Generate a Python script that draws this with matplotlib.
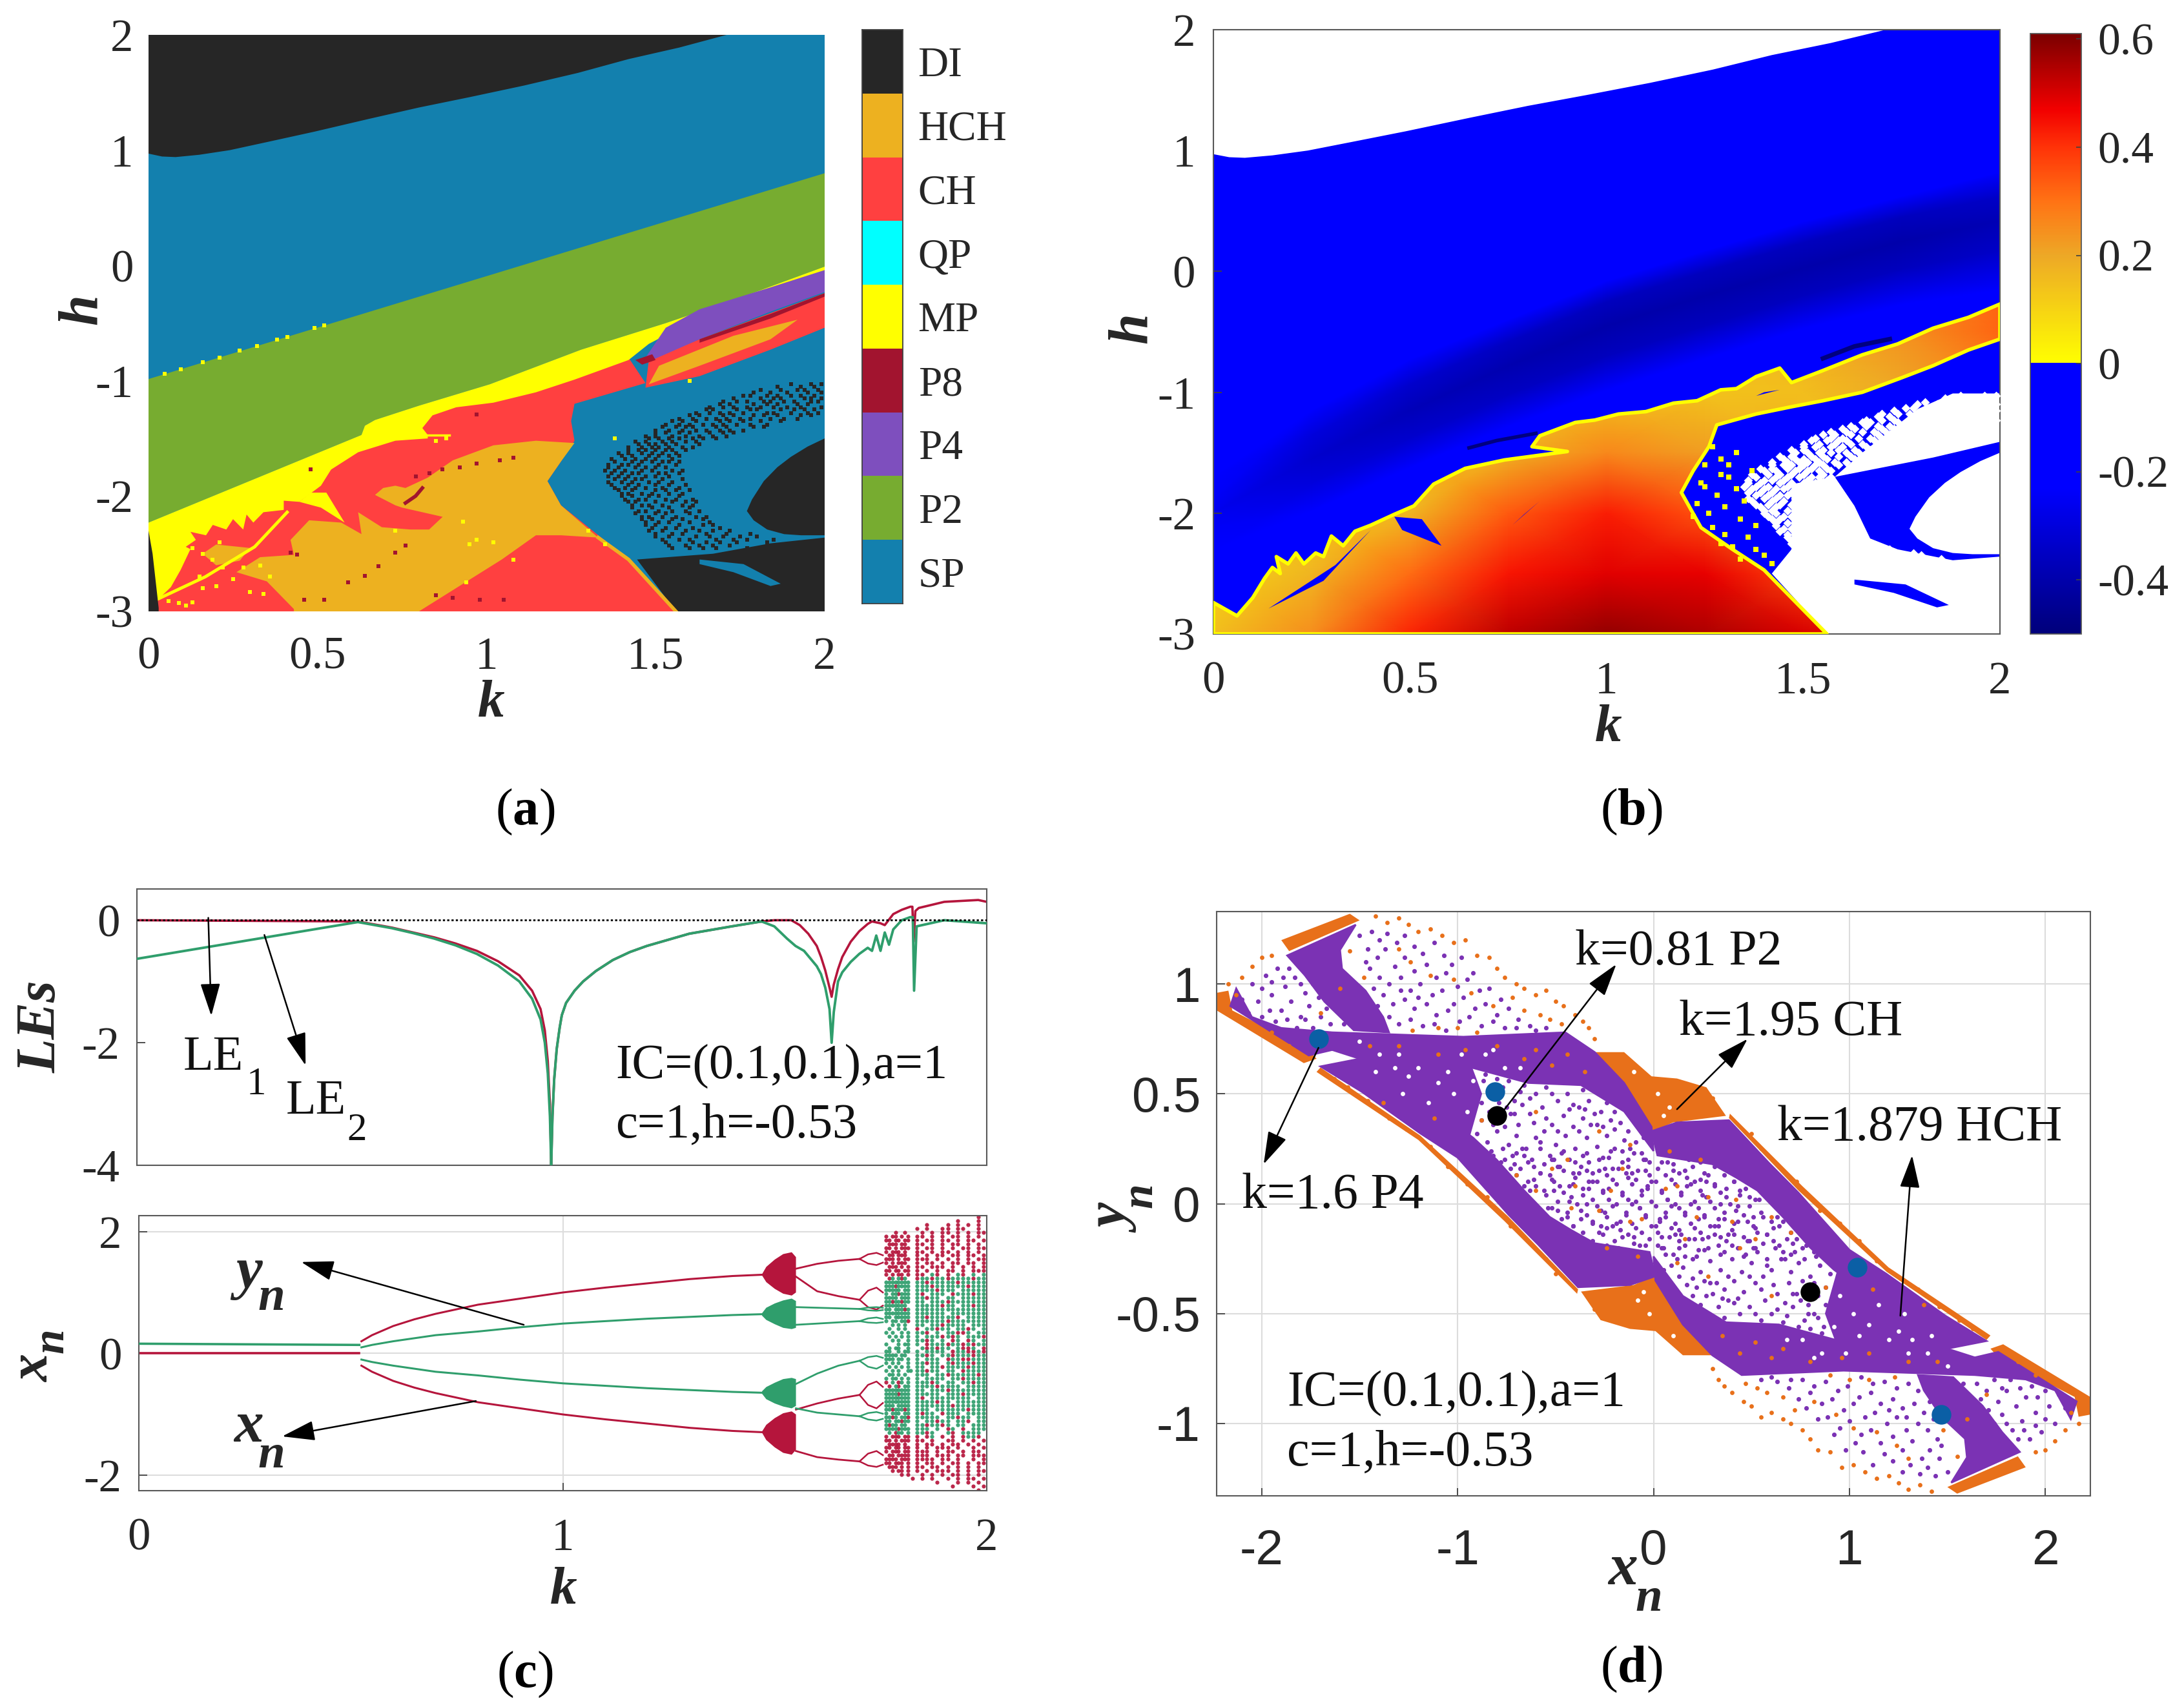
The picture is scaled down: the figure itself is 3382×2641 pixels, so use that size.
import numpy as np
import matplotlib
matplotlib.use("Agg")
import matplotlib.pyplot as plt
from matplotlib.colors import LinearSegmentedColormap, Normalize, ListedColormap
from matplotlib.cm import ScalarMappable
from matplotlib.patches import Polygon

W, H = 3382, 2641
plt.rcParams['font.family'] = ['Liberation Serif', 'DejaVu Serif']
plt.rcParams['axes.unicode_minus'] = False
plt.rcParams['mathtext.fontset'] = 'custom'
plt.rcParams['mathtext.rm'] = 'Liberation Serif'
plt.rcParams['mathtext.bf'] = 'Liberation Serif:bold'

# ---------- panel (a)/(b) regions, (k, h) ----------
state_names = ['DI', 'HCH', 'CH', 'QP', 'MP', 'P8', 'P4', 'P2', 'SP']
state_cols = ['#262626', '#EDB120', '#FF4040', '#00FFFF', '#FFFF00', '#A2142F', '#7E4FBE', '#77AC30', '#1380AE']

di_top = [(0, .97), (.04, .945), (.08, .94), (.15, .96), (.24, 1.0), (.35, 1.07), (.49, 1.16), (.65, 1.27), (.80, 1.37), (.95, 1.46), (1.11, 1.56), (1.27, 1.67), (1.42, 1.79), (1.57, 1.89), (1.71, 2.0), (0, 2)]
p2_upper = [(0, -.985), (2, .80)]
p2_lower = [(0, -2.23), (.63, -1.47), (.64, -1.39), (.67, -1.34), (.80, -1.216), (1.01, -1.03), (1.28, -.73), (1.53, -.50), (1.74, -.29), (2, -.01)]
mp_lower = [(2, -.05), (1.84, -.26), (1.63, -.45), (1.48, -.68), (1.42, -.82), (1.26, -.99), (1.146, -1.10), (1.02, -1.19), (.91, -1.23), (.84, -1.30), (.81, -1.41), (.826, -1.47),
            (.826, -1.50), (.73, -1.52), (.62, -1.62), (.54, -1.77), (.51, -1.91), (.446, -2.05), (.40, -2.04), (.40, -2.12), (.34, -2.14), (.31, -2.23), (.29, -2.16), (.28, -2.29),
            (.25, -2.20), (.23, -2.29), (.19, -2.25), (.17, -2.34), (.124, -2.31), (.14, -2.38), (.11, -2.44), (.124, -2.46), (.095, -2.64), (.066, -2.79), (.02, -2.92), (0, -3)]
p4_poly = [(1.47, -.80), (1.53, -.54), (1.63, -.38), (1.84, -.19), (2, -.04), (2, -.23), (1.84, -.40), (1.63, -.64), (1.49, -.82)]
p8_blob = [(1.44, -.82), (1.49, -.77), (1.50, -.82), (1.46, -.86)]
p8_streak = [(1.63, -.64), (1.84, -.42), (2, -.24), (2, -.27), (1.84, -.46), (1.63, -.67)]
ch_wedge = [(1.47, -1.06), (1.48, -.82), (1.63, -.64), (2, -.24), (2, -.54), (1.84, -.73), (1.63, -.96)]
hch_wedge = [(1.48, -1.03), (1.51, -.87), (1.73, -.61), (1.92, -.47), (1.84, -.64), (1.63, -.87)]
ch_main = [(0, -3), (0, -2.4), (.3, -1.92), (.63, -1.52), (.84, -1.25), (1.01, -1.1), (1.26, -.9), (1.42, -.80), (1.47, -1.02), (1.26, -1.20), (1.25, -1.35), (1.26, -1.52), (1.22, -1.70), (1.18, -1.87), (1.22, -2.08), (1.42, -2.55), (1.56, -3)]
hch_main = [(1.26, -1.54), (1.146, -1.52), (1.02, -1.56), (.90, -1.69), (.826, -1.84), (.76, -1.93), (.73, -1.91), (.694, -1.93), (.67, -1.99), (.73, -2.08), (.75, -2.10), (.87, -2.18), (.83, -2.29),
            (.775, -2.29), (.69, -2.27), (.62, -2.14), (.63, -2.33), (.57, -2.23), (.475, -2.21), (.42, -2.38), (.43, -2.51), (.33, -2.53), (.26, -2.66), (.35, -2.74), (.43, -2.98), (.43, -3), (.80, -3),
            (1.045, -2.55), (1.146, -2.34), (1.22, -2.34), (1.33, -2.36), (1.22, -2.08), (1.18, -1.87), (1.22, -1.70)]
hch_patch = [(.2, -2.42), (.3, -2.45), (.27, -2.56), (.2, -2.6), (.16, -2.5)]
mp_wedge = [(.48, -1.97), (.526, -1.97), (.58, -2.23), (.51, -2.10), (.446, -2.05)]
mp_spike_k, mp_spike_h = [.015, .168, .314, .41], [-2.91, -2.70, -2.44, -2.14]
mp_slit_k, mp_slit_h = [.81, .89], [-1.47, -1.47]
hch_edge_k, hch_edge_h = [1.33, 1.42, 1.56], [-2.36, -2.55, -3]
di_strip = [(0, -2.3), (.012, -2.5), (.03, -2.97), (.03, -3), (0, -3)]
di_low = [(1.445, -2.55), (1.56, -3), (2, -3), (2, -2.36), (1.84, -2.41), (1.67, -2.50)]
sp_tongue = [(1.63, -2.55), (1.76, -2.59), (1.87, -2.76), (1.84, -2.78), (1.73, -2.66), (1.63, -2.59)]
di_inner = [(1.77, -2.13), (1.785, -2.03), (1.82, -1.87), (1.86, -1.75), (1.90, -1.66), (1.95, -1.57), (2, -1.50), (2, -2.34), (1.93, -2.34), (1.88, -2.33), (1.83, -2.29), (1.79, -2.21)]
p8_mark_k, p8_mark_h = [.76, .79, .81], [-2.06, -2.0, -1.93]
dot_k = [.46, .52, .59, .64, .68, .73, .76, .85, .90, .98, 1.05, .42, .44, .79, .83, .87, .92, .97, 1.04, 1.08, .97, .48]
dot_h = [-2.9, -2.9, -2.75, -2.69, -2.61, -2.49, -2.43, -2.86, -2.88, -2.9, -2.9, -2.49, -2.51, -1.83, -1.80, -1.77, -1.75, -1.72, -1.69, -1.67, -1.29, -1.77]
yel_k = [.048, .095, .16, .21, .27, .32, .38, .41, .49, .52, .06, .09, .13, .16, .2, .25, .3, .05, .11, .15, .19, .22, .28, .34, .13, .16, .21, 1.02, .95, .97, 1.08, 1.3, 1.35, 1.38, 1.6, .33, .36, .94, .73, .85, .88, .93]
yel_h = [-.94, -.90, -.84, -.80, -.74, -.70, -.64, -.62, -.54, -.52, -2.91, -2.93, -2.92, -2.8, -2.78, -2.72, -2.83, -2.75, -2.95, -2.7, -2.55, -2.62, -2.62, -2.85, -2.45, -2.5, -2.4, -2.4, -2.42, -2.38, -2.55, -2.3, -2.42, -1.5, -1.0, -2.6, -2.7, -2.75, -2.3, -1.52, -1.5, -2.22]

speck_rows = [
    (-1.03, [1.90, 1.96, 1.99]),
    (-1.05, [1.86, 1.93, 1.97]),
    (-1.08, [1.81, 1.87, 1.92, 1.94, 1.98]),
    (-1.10, [1.79, 1.84, 1.89, 1.95, 1.99]),
    (-1.13, [1.76, 1.78, 1.83, 1.86, 1.90, 1.93, 1.97]),
    (-1.15, [1.73, 1.81, 1.85, 1.87, 1.94, 1.96, 1.99]),
    (-1.18, [1.70, 1.74, 1.77, 1.82, 1.84, 1.88, 1.91, 1.96, 1.98]),
    (-1.20, [1.69, 1.72, 1.79, 1.83, 1.86, 1.92, 1.95]),
    (-1.23, [1.66, 1.70, 1.73, 1.77, 1.81, 1.85, 1.89, 1.93, 1.99]),
    (-1.25, [1.65, 1.67, 1.74, 1.78, 1.80, 1.87, 1.91, 1.94, 1.97]),
    (-1.28, [1.62, 1.66, 1.69, 1.72, 1.76, 1.83, 1.85, 1.90, 1.95, 1.98]),
    (-1.30, [1.60, 1.63, 1.70, 1.73, 1.79, 1.82, 1.86, 1.93, 1.96]),
    (-1.33, [1.57, 1.61, 1.65, 1.68, 1.71, 1.75, 1.78, 1.84, 1.88, 1.92]),
    (-1.35, [1.55, 1.58, 1.62, 1.69, 1.72, 1.76, 1.81, 1.87]),
    (-1.38, [1.53, 1.57, 1.60, 1.64, 1.67, 1.70, 1.74, 1.78, 1.83]),
    (-1.40, [1.52, 1.56, 1.59, 1.61, 1.68, 1.71, 1.79, 1.82]),
    (-1.43, [1.50, 1.54, 1.58, 1.62, 1.65, 1.69, 1.72, 1.76]),
    (-1.45, [1.50, 1.53, 1.57, 1.60, 1.66, 1.70, 1.73]),
    (-1.48, [1.47, 1.50, 1.55, 1.59, 1.63, 1.67, 1.71]),
    (-1.50, [1.48, 1.51, 1.54, 1.57, 1.61, 1.64, 1.68]),
    (-1.53, [1.44, 1.47, 1.52, 1.55, 1.59, 1.62]),
    (-1.55, [1.45, 1.48, 1.50, 1.53, 1.56, 1.63]),
    (-1.58, [1.42, 1.46, 1.49, 1.51, 1.54, 1.58, 1.61]),
    (-1.60, [1.42, 1.45, 1.47, 1.50, 1.53, 1.55, 1.59]),
    (-1.63, [1.39, 1.42, 1.46, 1.49, 1.52, 1.56]),
    (-1.65, [1.40, 1.43, 1.48, 1.51, 1.54, 1.57]),
    (-1.68, [1.37, 1.41, 1.44, 1.47, 1.50, 1.55]),
    (-1.70, [1.38, 1.43, 1.46, 1.49, 1.52, 1.54, 1.57]),
    (-1.73, [1.36, 1.40, 1.42, 1.45, 1.51, 1.56]),
    (-1.75, [1.36, 1.39, 1.44, 1.47, 1.50, 1.53]),
    (-1.78, [1.35, 1.38, 1.41, 1.46, 1.49, 1.55, 1.58]),
    (-1.80, [1.37, 1.40, 1.43, 1.45, 1.51, 1.53, 1.57]),
    (-1.83, [1.36, 1.39, 1.42, 1.47, 1.50, 1.54]),
    (-1.85, [1.38, 1.41, 1.44, 1.46, 1.52, 1.58]),
    (-1.88, [1.36, 1.40, 1.43, 1.48, 1.51, 1.55]),
    (-1.90, [1.37, 1.42, 1.45, 1.50, 1.54, 1.59]),
    (-1.93, [1.38, 1.41, 1.44, 1.47, 1.52, 1.57]),
    (-1.95, [1.39, 1.43, 1.50, 1.53, 1.56, 1.60]),
    (-1.98, [1.40, 1.42, 1.46, 1.49, 1.54, 1.58]),
    (-2.00, [1.40, 1.43, 1.48, 1.51, 1.57]),
    (-2.03, [1.41, 1.45, 1.47, 1.53, 1.56, 1.61]),
    (-2.05, [1.42, 1.44, 1.50, 1.55, 1.59, 1.62]),
    (-2.08, [1.43, 1.46, 1.48, 1.52, 1.58, 1.61]),
    (-2.10, [1.43, 1.49, 1.54, 1.60]),
    (-2.13, [1.45, 1.47, 1.51, 1.55, 1.59, 1.63]),
    (-2.15, [1.44, 1.50, 1.53, 1.60]),
    (-2.18, [1.46, 1.48, 1.52, 1.56, 1.62, 1.65]),
    (-2.20, [1.46, 1.49, 1.55, 1.58, 1.64]),
    (-2.23, [1.47, 1.51, 1.54, 1.60, 1.66]),
    (-2.25, [1.47, 1.50, 1.57, 1.64, 1.67]),
    (-2.28, [1.49, 1.53, 1.56, 1.61, 1.69]),
    (-2.30, [1.48, 1.52, 1.59, 1.63, 1.67, 1.72]),
    (-2.33, [1.50, 1.55, 1.58, 1.65, 1.71, 1.78]),
    (-2.35, [1.50, 1.54, 1.62, 1.66, 1.70, 1.75, 1.80]),
    (-2.38, [1.52, 1.57, 1.60, 1.68, 1.73, 1.77, 1.85]),
    (-2.40, [1.53, 1.61, 1.65, 1.69, 1.74, 1.83]),
    (-2.43, [1.54, 1.59, 1.63, 1.67, 1.72]),
    (-2.45, [1.55, 1.60, 1.64, 1.68, 1.77]),
]

# ---------- panel (b) ----------
band_k = [0, .25, .5, .75, 1, 1.25, 1.5, 1.75, 2]
band_low = [-2.3, -1.98, -1.62, -1.28, -.98, -.72, -.47, -.27, -.15]
band_low2 = [-2.12, -1.75, -1.38, -1.02, -.70, -.45, -.20, .02, .17]
band_mid = [-2.0, -1.55, -1.15, -.78, -.45, -.2, .03, .25, .42]
band_up2 = [-1.88, -1.35, -.93, -.58, -.25, 0, .24, .45, .62]
band_up = [-1.7, -1.15, -.73, -.40, -.08, .17, .41, .62, .82]
band_val = [-.26, -.33, -.37, -.39, -.40, -.40, -.40, -.40, -.38]
band_val2 = [-.24, -.30, -.33, -.35, -.36, -.36, -.36, -.36, -.34]
bg_val = -.18
edge_val = -.22

chaos_k = [0, .25, .5, .75, 1, 1.25, 1.5, 1.75, 2]
chaos_h = [-3, -2.5, -2, -1.5, -1, -.5, 0]
chaos_v = [[.15, .25, .42, .53, .58, .55, .50, .45, .45],
           [.10, .17, .31, .44, .49, .48, .37, .30, .30],
           [.08, .11, .17, .34, .43, .35, .20, .20, .20],
           [.05, .08, .12, .18, .26, .22, .15, .15, .15],
           [.05, .08, .10, .12, .14, .14, .15, .20, .25],
           [.05, .08, .10, .12, .14, .15, .18, .24, .32],
           [.05, .08, .10, .12, .14, .15, .18, .24, .32]]
chaos_poly = [(0, -3), (0, -2.74), (.06, -2.85), (.10, -2.70), (.13, -2.54), (.15, -2.45), (.17, -2.50), (.16, -2.36), (.19, -2.42), (.21, -2.33), (.23, -2.42), (.26, -2.33), (.28, -2.36), (.30, -2.19), (.33, -2.27), (.36, -2.15), (.40, -2.10),
              (.46, -2.01), (.51, -1.94), (.56, -1.76), (.64, -1.63), (.74, -1.56), (.90, -1.49), (.81, -1.45), (.83, -1.36), (.92, -1.25), (.97, -1.23), (1.03, -1.18), (1.10, -1.16), (1.17, -1.09), (1.23, -1.07), (1.29, -.98), (1.33, -.97), (1.38, -.87), (1.44, -.80),
              (1.47, -.92), (1.55, -.82), (1.65, -.69), (1.74, -.60), (1.83, -.47), (1.92, -.38), (2, -.27), (2, -.56), (1.92, -.65), (1.83, -.78), (1.75, -.88), (1.65, -1.0), (1.55, -1.07), (1.47, -1.12), (1.38, -1.18), (1.28, -1.27), (1.26, -1.45), (1.22, -1.65), (1.19, -1.83),
              (1.24, -2.12), (1.32, -2.30), (1.40, -2.47), (1.56, -3)]
holes = [[(.40, -2.14), (.31, -2.43), (.14, -2.79), (.28, -2.56)],
         [(.46, -2.03), (.53, -2.05), (.58, -2.27), (.48, -2.14)],
         [(.76, -2.10), (.83, -1.90), (.79, -2.01)],
         [(1.38, -1.03), (1.44, -.98), (1.40, -1.0)]]
white_low = [(1.47, -1.76), (1.58, -1.70), (1.63, -1.94), (1.67, -2.21), (1.74, -2.30), (1.88, -2.39), (2, -2.36), (2, -3), (1.56, -3), (1.42, -2.50), (1.47, -2.30)]
white_up = [(1.58, -1.70), (1.83, -1.54), (2, -1.41), (2, -1.01), (1.88, -1.01), (1.79, -1.14), (1.65, -1.50)]
cb_ticks = [.6, .4, .2, 0, -.2, -.4]
dark_k, dark_h = [.65, .72, .82], [-1.46, -1.40, -1.34]
dark2_k, dark2_h = [1.55, 1.63, 1.72], [-.72, -.62, -.56]
byel_k = [1.27, 1.25, 1.29, 1.24, 1.28, 1.31, 1.23, 1.26, 1.30, 1.33, 1.27, 1.30, 1.34, 1.36, 1.31, 1.35, 1.38, 1.40, 1.22, 1.25, 1.29, 1.33, 1.37, 1.32, 1.38, 1.42, 1.29, 1.34]
byel_h = [-1.45, -1.6, -1.55, -1.75, -1.85, -1.7, -1.92, -2.0, -1.95, -1.8, -2.12, -2.18, -2.05, -2.2, -1.6, -1.9, -2.1, -2.35, -2.03, -1.78, -1.68, -1.5, -1.65, -2.28, -2.3, -2.42, -2.25, -2.38]

# ---------- panel (c) ----------
le_k1 = [0, .52, .56, .6, .65, .7, .75, .8, .85, .9, .93, .95, .96, .967, .972, .975]
le1_a = [0, -.02, -.07, -.12, -.2, -.28, -.38, -.5, -.67, -.9, -1.15, -1.45, -1.8, -2.3, -3, -4]
le2_a = [-.63, -.03, -.08, -.13, -.21, -.3, -.41, -.55, -.74, -1.0, -1.28, -1.62, -2.0, -2.5, -3.2, -4]
le_k0 = [.975, .978, .982, .988, .995, 1.0, 1.01, 1.03, 1.05, 1.08, 1.12, 1.16, 1.2, 1.3, 1.4, 1.47]
le_shared = [-4, -3.2, -2.6, -2.1, -1.75, -1.55, -1.35, -1.15, -1.0, -.83, -.65, -.52, -.42, -.22, -.1, -.02]
le_k2 = [1.47, 1.5, 1.54, 1.56, 1.58, 1.6, 1.61, 1.62, 1.63, 1.635, 1.64, 1.65, 1.66, 1.68, 1.7, 1.72, 1.73, 1.75, 1.76, 1.78, 1.8, 1.82, 1.825, 1.828, 1.832, 1.84, 1.9, 1.98, 2]
le1_b = [-.02, 0, 0, -.08, -.22, -.42, -.6, -.82, -1.1, -1.25, -1.05, -.8, -.6, -.35, -.18, -.06, -.02, -.05, -.08, .1, .17, .22, .22, -.35, .15, .2, .3, .33, .3]
le_k3 = [1.47, 1.5, 1.53, 1.55, 1.57, 1.6, 1.61, 1.62, 1.63, 1.635, 1.64, 1.65, 1.66, 1.68, 1.7, 1.72, 1.73, 1.74, 1.75, 1.76, 1.77, 1.78, 1.8, 1.82, 1.826, 1.829, 1.835, 1.9, 2]
le2_b = [-.02, -.1, -.3, -.42, -.5, -.75, -.88, -1.1, -1.45, -2, -1.5, -1.0, -.85, -.68, -.55, -.45, -.5, -.25, -.5, -.2, -.4, -.15, 0, .05, .05, -1.15, -.1, 0, -.05]

k_flat, x_flat, y_flat = [0, .52], [0, 0], [.16, .14]
k_b1 = [.525, .55, .6, .65, .7, .8, .9, 1, 1.1, 1.2, 1.3, 1.4, 1.5]
x_b1 = [.2, .3, .45, .56, .65, .8, .9, 1, 1.08, 1.15, 1.22, 1.27, 1.3]
y_b1 = [.1, .14, .2, .25, .3, .36, .43, .49, .53, .57, .6, .63, .65]
blob_k = [1.47, 1.48, 1.50, 1.52, 1.54, 1.55, 1.55, 1.54, 1.52, 1.50, 1.48, 1.47]
blob_x = [1.3, 1.42, 1.54, 1.63, 1.66, 1.58, 1.0, .95, .98, 1.06, 1.17, 1.28]
blob_y = [.66, .75, .82, .87, .9, .86, .42, .4, .42, .48, .55, .62]
k_b2 = [1.55, 1.6, 1.65, 1.70]
red_branches = [[1.39, 1.47, 1.52, 1.55], [1.26, 1.02, .94, .88], [-.92, -.82, -.74, -.68], [-1.6, -1.70, -1.74, -1.77]]
green_branches = [[.76, .75, .74, .73], [.47, .49, .51, .53], [-.5, -.33, -.2, -.12], [-.9, -.97, -1.0, -1.03]]
red_fork_up, red_fork_dn = [.10, .2, .22, .17], [.1, .16, .22, .09]
green_fork_up, green_fork_dn = [.03, .06, .08, .07], [.03, .03, .13, .07]
fork_k = [1.70, 1.72, 1.74, 1.755]
fork_w = [0, .75, 1, .6]
cloud_rows = [
"......................r.",
"..................r...r.",
"............r...r.r.r.r.",
"..........r.r..rr.rr..r.",
"...r..r....r.r.rr.r.r.rr",
"r.rr.r.r..rr.r.r.rr.r.r.",
"rr.rr.rr..r.rr.rr.r.rr.r",
".rrr.rr...rr.r.r.rr.r.r.",
"rr.r.rrr..r.rr.r.r.rr.rr",
"r.rrr.r...rr.r.rr.r.r.r.",
".rr.rrr...r.r.rr.rr.rr.r",
"rrr.r.rr..rrr.r.r.r.r.rr",
"r.r.rrr...r.rr.r.rr.rr.r",
".rrr.r.r..rr.rrr.r.r.r.r",
"rr.rr.rr..r.r.r.rr.r.rrr",
"r.r.rr.r..rr.gr.r.gr.g.g",
".rg.grg...rggrggrggggrgg",
"gggggggg..ggrgggggrggggg",
"gggrgggg..gggrggggggrggg",
"ggggg.gg..ggggrggg.ggggg",
"g.ggrggg..gr.ggg.rgggrgg",
"gggg.ggg..ggrgg.gg.ggggg",
"ggrggrgg..gg.gggrggggggg",
"ggggggg...gggggrgg.ggrgg",
"gg.gggrg..gggggggggggggg",
"gggggggg..gggggg.ggggggg",
"gg.ggggg..ggrgggggr.gggg",
"g.gg.ggr..ggggggrggggggg",
"..g.g.g...gg.ggrgggg.ggg",
".g..g.g...r.ggrgg.ggrg.g",
"g.g..g.g..ggr.g.ggrrg.gg",
".g.g.g.g..g.gggrgrg.gggr",
"..g.g..g..ggrg.g.rg.rg.g",
"g...g.gg..g.rgggrggrgrgg",
".g.gg..g...grgrgg.grrg.r",
"gg..g.gg..g.gggg.rggrrgr",
"gggg.gg...ggrg.ggrgggrgg",
"ggg.gg.g..g.ggg.rggrrggg",
"g.g.g..g..ggrgg.grgggrgg",
".g.g.g.g..gg.ggrggggrggg",
"g.g.g..gg.ggrgg.gg.rgggg",
".gg.g.g...ggg.ggrgggggrg",
"g.gg.g.g..g.gggg.ggrgggg",
"r.g.rg.g..gggrg.gg.ggrgg",
".r.gr.gg..ggggrgggg.gggg",
"gggggggg..gg.gggrggggggg",
"ggggrggg..ggggg.gggrgggg",
"gggggggg..gr.gggggggg.gg",
"gggggggg..ggggrgg.gggggg",
"ggg.gggg..gggggggrgggggg",
"ggrgggrg..ggg.ggggggrggg",
"g.ggg.gg..grgg.rggg.gggg",
"ggrg.ggr..ggggg.ggrgg.gg",
"gg.ggrgg..g.ggrgg.ggr.gg",
"grgg.gg...ggrggrg.gg.ggg",
"ggggrggg..ggg.g.rg.r.ggg",
".g.rgg.g..ggrg..gr.gggg.",
"r.rrr.rr..r.rg.r.r.rggr.",
"rr.r.rrr..rr.r..rr.r.r.r",
".rrrr.r...r.rr.r.rr.r.r.",
"rr.rr.rr..r.r.rrr.r..r.r",
"r.rrr.rr..rrr.r.rr.r.rr.",
".rr.rrrr..rrr.rrr.rr.rrr",
"rrrr.rrr..rrrr.rr.r..r.r",
"rr.rrr.r..r.rr.r.rr.r.rr",
".rrr.r.r..rr.rr.r.r.r.r.",
"..r.rr.r..r.r.rrr.r.r.rr",
".....r.r...r.r.r.rr.r.r.",
".........r.r.r..r.r.rr.r",
"..............r...r.r.r.",
".................r...r.r",
"......................r.",
]
cloud_col_k = [1.763, 1.77, 1.777, 1.785, 1.792, 1.799, 1.806, 1.814, 1.82, 1.825, 1.835, 1.847, 1.859, 1.871, 1.883, 1.895, 1.908, 1.92, 1.932, 1.944, 1.956, 1.968, 1.98, 1.992]

# ---------- panel (d): half of the point-symmetric attractor ----------
purple_bands = [
    [(-2.16, .90), (-2.13, .98), (-2.05, .85), (-1.9, .8), (-1.64, .78), (-.97, .76), (-.45, .78), (-.30, .69), (-.15, .55), (-.01, .35), (0, .24), (-.15, .42), (-.37, .54), (-.64, .55), (-.93, .62), (-1.19, .675), (-1.64, .70), (-1.76, .675)],
    [(-1.87, 1.13), (-1.52, 1.27), (-1.60, 1.155), (-1.59, 1.07), (-1.47, .97), (-1.38, .85), (-1.35, .78), (-1.53, .79), (-1.68, .92), (-1.78, 1.04), (-1.84, 1.10)],
    [(-1.70, .625), (-1.49, .51), (-1.19, .32), (-1.0, .21), (-.74, -.05), (-.59, -.185), (-.385, -.38), (-.12, -.37), (.01, -.33), (-.02, -.22), (-.30, -.18), (-.42, -.12), (-.53, -.06), (-.66, .06), (-.80, .2), (-.92, .3), (-1.1, .42), (-1.3, .56), (-1.5, .66)],
    [(-1.64, .70), (-1.19, .675), (-.93, .62), (-.88, .5), (-.95, .28), (-1.1, .42), (-1.3, .56), (-1.5, .66)],
]
orange_bands = [
    [(-.30, .69), (-.15, .69), (-.01, .58), (.12, .57), (.27, .53), (.37, .40), (.10, .37), (0, .33), (-.09, .46), (-.24, .61)],
    [(-2.23, .96), (-2.23, .88), (-1.785, .64), (-1.72, .66), (-1.76, .70), (-2.15, .88), (-2.17, .97)],
    [(-1.90, 1.20), (-1.55, 1.32), (-1.50, 1.29), (-1.86, 1.15)],
    [(-1.70, .62), (-1.19, .31), (-.74, -.06), (-.385, -.39), (-.39, -.41), (-.76, -.08), (-1.2, .29), (-1.72, .60)],
]
lens_pts = [
    (-.82, .5), (-.77, .53), (-.71, .47), (-.66, .54), (-.6, .5), (-.55, .53), (-.49, .47), (-.44, .5), (-.38, .44), (-.33, .47),
    (-.84, .42), (-.79, .38), (-.75, .44), (-.69, .36), (-.63, .41), (-.57, .44), (-.52, .36), (-.46, .4), (-.41, .35), (-.36, .39), (-.3, .41), (-.26, .35),
    (-.9, .32), (-.85, .28), (-.8, .33), (-.74, .27), (-.7, .31), (-.65, .25), (-.6, .3), (-.56, .33), (-.5, .27), (-.45, .31), (-.4, .25), (-.34, .3), (-.29, .26), (-.24, .31), (-.2, .25), (-.15, .29),
    (-.78, .19), (-.72, .22), (-.68, .16), (-.62, .2), (-.58, .14), (-.53, .22), (-.48, .17), (-.43, .2), (-.38, .14), (-.33, .19), (-.28, .15), (-.23, .21), (-.18, .16), (-.13, .2), (-.08, .15), (-.04, .2), (.02, .16), (.07, .19), (.13, .14), (.2, .17), (.28, .13), (.36, .16),
    (-.66, .08), (-.61, .11), (-.56, .06), (-.51, .1), (-.46, .05), (-.41, .09), (-.36, .04), (-.31, .1), (-.26, .06), (-.21, .11), (-.16, .05), (-.11, .09), (-.06, .04), (-.01, .1), (.04, .06), (.09, .11), (.14, .05), (.19, .09), (.25, .04), (.31, .08), (.37, .03), (.44, .06), (.52, .02),
    (-.54, -.02), (-.49, .01), (-.44, -.04), (-.39, 0), (-.34, -.05), (-.29, -.01), (-.24, -.06), (-.19, 0), (-.14, -.04), (-.09, .01), (-.04, -.05), (.01, -.01), (.06, -.06), (.11, 0), (.16, -.04), (.21, .01), (.26, -.05), (.31, -.02), (.36, -.07), (.42, -.03), (.48, -.08), (.55, -.04), (.62, -.01),
    (-.41, -.1), (-.36, -.13), (-.31, -.09), (-.26, -.14), (-.21, -.1), (-.16, -.15), (-.11, -.09), (-.06, -.13), (-.01, -.1), (.04, -.15), (.09, -.11), (.14, -.14), (.19, -.09), (.24, -.13), (.29, -.1), (.34, -.15), (.4, -.12), (.46, -.15), (.52, -.11), (.58, -.14), (.64, -.1), (.7, -.13),
    (.05, -.2), (.1, -.23), (.16, -.19), (.22, -.24), (.28, -.2), (.34, -.23), (.4, -.19), (.46, -.24), (.52, -.2), (.58, -.25), (.64, -.19), (.7, -.23), (.76, -.2),
    (-.79, .46), (-.73, .41), (-.67, .45), (-.61, .37), (-.55, .39), (-.49, .33), (-.43, .43), (-.38, .33), (-.32, .36), (-.27, .42), (-.22, .38), (-.83, .24), (-.77, .25), (-.71, .18), (-.66, .22), (-.56, .18), (-.51, .2), (-.41, .14), (-.36, .22), (-.31, .14),
    (-.26, .21), (-.21, .16), (-.16, .24), (-.11, .14), (-.06, .23), (-.02, .13), (.04, .23), (.1, .15), (.17, .21), (.24, .11), (.32, .2), (-.63, .06), (-.53, .13), (-.43, .01), (-.33, .07), (-.23, .02), (-.13, .12), (-.03, .07), (.07, .02), (.17, .12), (.27, .1), (.34, 0), (.41, .1), (.49, .03),
    (-.47, -.07), (-.37, -.07), (-.27, -.03), (-.17, -.08), (-.07, -.02), (.03, -.08), (.13, -.02), (.23, -.07), (.33, -.1), (.43, -.08), (.51, -.06), (.6, -.08), (.68, -.05), (.02, -.19), (.13, -.17), (.25, -.16), (.37, -.17), (.49, -.17), (.61, -.17), (.73, -.16), (.82, -.22), (.67, -.25),
    (-.31, -.17), (-.24, -.19), (-.18, -.2), (-.1, -.18), (-.04, -.19), (-.95, .45), (-.92, .52), (-.87, .56), (-.93, .38), (-.88, .46),
    (-.86, .59), (-.8, .57), (-.74, .56), (-.7, .59), (-.64, .58), (-.58, .56), (-.52, .58), (-.46, .55), (-.4, .56), (-.36, .52), (-.28, .5), (-.24, .46), (-.2, .42), (-.17, .37), (-.13, .33), (-.09, .28), (-.05, .3),
    (-.84, .52), (-.79, .5), (-.68, .51), (-.63, .48), (-.52, .5), (-.41, .45), (-.35, .43), (-.29, .36), (-.2, .34), (-.12, .25), (-.88, .38), (-.82, .36), (-.76, .35), (-.71, .41), (-.58, .28), (-.47, .23),
]
lobe_pts = [
    (-1.44, 1.24), (-1.4, 1.2), (-1.36, 1.23), (-1.31, 1.19), (-1.27, 1.22), (-1.22, 1.17), (-1.18, 1.14), (-1.12, 1.19), (-1.07, 1.13), (-1.03, 1.09), (-.98, 1.12), (-.92, 1.05),
    (-1.46, 1.16), (-1.41, 1.12), (-1.37, 1.16), (-1.32, 1.08), (-1.27, 1.12), (-1.22, 1.06), (-1.16, 1.09), (-1.11, 1.03), (-1.06, 1.05), (-1.0, .99), (-.95, 1.02), (-.89, .97), (-.84, .98), (-.78, .93),
    (-1.45, 1.07), (-1.4, 1.03), (-1.35, 1.0), (-1.29, 1.03), (-1.24, .97), (-1.19, 1.0), (-1.13, .95), (-1.08, .97), (-1.02, .91), (-.97, .94), (-.91, .89), (-.86, .91), (-.8, .86), (-.74, .89), (-.69, .84), (-.63, .81),
    (-1.38, .95), (-1.33, .91), (-1.27, .93), (-1.22, .89), (-1.16, .91), (-1.11, .86), (-1.05, .88), (-.99, .83), (-.94, .85), (-.88, .81), (-.82, .83), (-.76, .8), (-.7, .8), (-.6, .79), (-.55, .8),
    (-1.35, .85), (-1.3, .82), (-1.24, .84), (-1.18, .81), (-1.12, .82), (-1.06, .79), (-1.5, 1.22), (-1.47, 1.1), (-1.43, .98), (-1.41, .9), (-1.29, .97), (-1.2, .94),
    (-2.1, .93), (-2.05, 1.0), (-2.02, .92), (-1.98, 1.04), (-1.95, .95), (-1.92, 1.07), (-1.9, .88), (-1.88, .99), (-1.85, .92), (-1.83, 1.03), (-1.8, .85), (-1.78, .96), (-1.76, .9), (-1.74, .8), (-1.71, .94), (-1.7, .85), (-1.67, .89), (-1.65, .82), (-1.62, .9),
    (-2.07, .87), (-2.0, .85), (-1.96, .88), (-1.93, .83), (-1.87, .84), (-1.82, .8), (-1.78, .84), (-1.74, 1.0), (-1.95, 1.01), (-2.0, .98), (-1.89, 1.03), (-1.86, 1.07), (-1.8, 1.0), (-1.58, .82), (-1.55, .85),
]
orange_pts = [
    (-1.42, 1.31), (-1.36, 1.28), (-1.3, 1.3), (-1.25, 1.27), (-1.2, 1.24), (-1.14, 1.25), (-1.08, 1.22), (-1.02, 1.19), (-.96, 1.2), (-.9, 1.13), (-.84, 1.12), (-.8, 1.07), (-.76, 1.03), (-.7, 1.0), (-.66, .98), (-.6, .95), (-.55, .97), (-.5, .92), (-.46, .9), (-.4, .86), (-.36, .83), (-.33, .8), (-.3, .75),
    (-1.3, 1.16), (-1.24, 1.1), (-1.14, 1.04), (-1.02, 1.02), (-.93, .96), (-.82, .9), (-.72, .94), (-.66, .88), (-.58, .86), (-.53, .84), (-.47, .82), (-.9, .78), (-1.0, .8), (-1.1, .8), (-1.23, .79),
    (-2.17, 1.0), (-2.1, 1.03), (-2.05, 1.08), (-2.0, 1.12), (-1.95, 1.13), (-2.13, .95), (-1.95, .78), (-1.86, .72), (-1.7, .87), (-1.6, .98), (-1.55, 1.15), (-1.48, 1.03),
    (-1.63, .57), (-1.56, .53), (-1.46, .47), (-1.35, .39), (-1.26, .34), (-1.14, .26), (-1.05, .17), (-.95, .09), (-.85, .03), (-.73, -.1), (-.65, -.16), (-.55, -.25), (-.5, -.32),
    (-.96, .7), (-.8, .72), (-.66, .66), (-.6, .7), (-.52, .63), (-.44, .68), (-.35, .6), (-1.1, .68), (-1.3, .72), (-1.45, .72), (-1.38, .46), (-1.12, .39), (-.88, .38),
    (-.6, .42), (-.52, .16), (-.28, .33), (-.12, .27), (.12, .08), (.28, .03), (-.22, .06), (.4, -.08), (-.06, -.07), (.16, -.16), (.44, -.2), (.6, -.06), (-.7, .13), (-.42, -.02), (.08, .24), (.24, .2),
    (.12, .52), (.2, .48), (.3, .48),
]
white_pts = [(.02, .5), (-.1, .6), (.08, .44), (.05, .4), (-.82, .7), (-1.3, .68), (-1.1, .55), (-1.25, .58), (-.98, .68), (-1.05, .6), (-.76, .62), (-.68, .62), (-.86, .68), (-1.4, .68), (-1.5, .74), (-1.28, .5), (-1.15, .46), (-.95, .42), (-1.02, .5), (-1.42, .6), (-1.32, .62), (-1.2, .62), (-.92, .56)]
blue_x, blue_y = [-1.71, -.81, 1.04, 1.47], [.75, .51, -.29, -.96]
black_x, black_y = [-.80, .80], [.40, -.40]


def T(x, y, s, **kw):
    kw.setdefault('ha', 'center')
    kw.setdefault('va', 'center')
    return fig.text(x / W, 1 - y / H, s, **kw)


def AX(x0, x1, y0, y1):
    return fig.add_axes([x0 / W, 1 - y1 / H, (x1 - x0) / W, (y1 - y0) / H])


def fill(ax, pts, color, z=2, **kw):
    ax.fill([p[0] for p in pts], [p[1] for p in pts], color=color, lw=0, zorder=z, **kw)


def style(ax, edge='#595959'):
    for s in ax.spines.values():
        s.set_color(edge)
        s.set_linewidth(1.5)
    ax.tick_params(direction='in', length=9, width=1.3, color='#404040', labelcolor='#262626')


BI = dict(family='Liberation Serif', weight='bold', style='italic', color='#262626')
fig = plt.figure(figsize=(W / 100, H / 100), dpi=100, facecolor='white')

speck_k = [k for h, ks in speck_rows for k in ks]
speck_h = [h for h, ks in speck_rows for k in ks]
kticks = [0, .5, 1, 1.5, 2]
kticklabels = ['0', '0.5', '1', '1.5', '2']
hticks = [-3, -2, -1, 0, 1, 2]

# ---------- (a) ----------
ax = AX(230, 1277, 54, 947)
c = dict(zip(state_names, state_cols))
ax.set_facecolor(c['SP'])
fill(ax, di_top, c['DI'])
fill(ax, p2_lower + p2_upper[::-1], c['P2'])
fill(ax, ch_main, c['CH'], 2.2)
fill(ax, p2_lower + mp_lower, c['MP'], 2.4)
fill(ax, ch_wedge, c['CH'], 3)
fill(ax, hch_main, c['HCH'], 4)
fill(ax, hch_wedge, c['HCH'], 4)
fill(ax, hch_patch, c['HCH'], 4)
fill(ax, p4_poly, c['P4'], 4)
fill(ax, p8_blob, c['P8'], 5)
fill(ax, p8_streak, c['P8'], 5)
fill(ax, mp_wedge, c['MP'], 5)
ax.plot(mp_spike_k, mp_spike_h, color=c['MP'], lw=3.5, zorder=5)
ax.plot(mp_slit_k, mp_slit_h, color=c['MP'], lw=2.5, zorder=5)
ax.plot(hch_edge_k, hch_edge_h, color=c['HCH'], lw=4, zorder=5)
ax.plot(p8_mark_k, p8_mark_h, color=c['P8'], lw=4, zorder=5)
fill(ax, di_strip, c['DI'], 5)
fill(ax, di_low, c['DI'], 3)
fill(ax, sp_tongue, c['SP'], 4)
fill(ax, di_inner, c['DI'], 3)
ax.scatter(speck_k, speck_h, s=19, marker='s', color=c['DI'], lw=0, zorder=3)
ax.scatter(dot_k, dot_h, s=14, marker='s', color=c['P8'], lw=0, zorder=6)
ax.scatter(yel_k, yel_h, s=14, marker='s', color=c['MP'], lw=0, zorder=6)
ax.set_xlim(0, 2)
ax.set_ylim(-3, 2)
ax.set_xticks(kticks, kticklabels)
ax.set_yticks(hticks, [str(t) for t in hticks])
ax.tick_params(length=0, labelsize=51, labelcolor='#262626')
ax.tick_params(axis='x', pad=28)
ax.tick_params(axis='y', pad=17)
for s in ax.spines.values():
    s.set_visible(False)
T(761, 1090, 'k', fontsize=60, **BI)
T(128, 479, 'h', fontsize=62, rotation=90, **BI)

cax = AX(1335, 1398, 46, 935)
cax.pcolormesh(np.arange(2), np.arange(len(state_cols) + 1), np.arange(len(state_cols))[::-1].reshape(-1, 1),
               cmap=ListedColormap(state_cols), vmin=0, vmax=len(state_cols) - 1)
cax.set_xticks([])
cax.yaxis.tick_right()
cax.set_yticks(np.arange(len(state_cols)) + .5, state_names[::-1])
cax.tick_params(axis='y', length=0, pad=17, labelsize=47, labelcolor='#262626')
for s in cax.spines.values():
    s.set_color('#404040')
    s.set_linewidth(1.3)

# ---------- (b) ----------
ax = AX(1879, 3097, 46, 982)
z0 = .5 / 1.11
bmap = LinearSegmentedColormap.from_list('le', [
    (0, (0, 0, .48)), (.27 / 1.11, (0, 0, 1)), (z0, (0, 0, 1)), (z0, (1, 1, 0)),
    (z0 + .2 / 1.11, (.93, .66, .15)), (z0 + .3 / 1.11, (1, .45, .08)), (z0 + .4 / 1.11, (1, .2, .03)), (z0 + .47 / 1.11, (.95, 0, 0)), (1, (.48, 0, 0))], N=512)
bnorm = Normalize(-.5, .61)
bk = np.array(band_k, float)
X = np.tile(bk, (7, 1))
Y = np.array([np.full(9, -3.0), band_low, band_low2, band_mid, band_up2, band_up, np.full(9, 2.0)])
V = np.array([np.full(9, bg_val), np.full(9, edge_val), band_val2, band_val, band_val2, np.full(9, edge_val), np.full(9, bg_val)])
ax.pcolormesh(X, Y, V, shading='gouraud', cmap=bmap, norm=bnorm, zorder=1)
ax.plot(dark_k, dark_h, color='#000080', lw=4, zorder=2)
ax.plot(dark2_k, dark2_h, color='#000080', lw=5, zorder=2)
fill(ax, di_top, 'white', 2)
fill(ax, white_low, 'white', 2)
fill(ax, white_up, 'white', 2)
fill(ax, di_inner, 'white', 2)
fill(ax, sp_tongue, (0, 0, 1), 3)
ax.scatter(speck_k, speck_h, s=50, marker='D', color='white', lw=0, zorder=3)
mesh = ax.pcolormesh(chaos_k, chaos_h, np.array(chaos_v), shading='gouraud', cmap=bmap, norm=bnorm, zorder=4)
poly = Polygon(chaos_poly, closed=True, transform=ax.transData, fc='none', ec=(1, 1, 0), lw=4, zorder=5, joinstyle='round')
ax.add_patch(poly)
mesh.set_clip_path(poly)
for hp in holes:
    fill(ax, hp, (0, 0, 1), 6)
ax.scatter(byel_k, byel_h, s=30, marker='s', color=(1, 1, 0), lw=0, zorder=5)
ax.set_xlim(0, 2)
ax.set_ylim(-3, 2)
ax.set_xticks(kticks, kticklabels)
ax.set_yticks(hticks, [str(t) for t in hticks])
style(ax)
ax.tick_params(labelsize=51)
ax.tick_params(axis='x', pad=30)
ax.tick_params(axis='y', pad=20)
T(2491, 1128, 'k', fontsize=60, **BI)
T(1754, 508, 'h', fontsize=62, rotation=90, **BI)
cax = AX(3144, 3223, 52, 982)
cb = fig.colorbar(ScalarMappable(norm=bnorm, cmap=bmap), cax=cax)
cb.set_ticks(cb_ticks, labels=['0.6', '0.4', '0.2', '0', '-0.2', '-0.4'])
cb.outline.set_edgecolor('#595959')
cb.outline.set_linewidth(1.3)
cax.tick_params(direction='in', length=6, width=1.2, color='#404040', pad=18, labelsize=50, labelcolor='#262626')

# ---------- (c) ----------
RED, GREEN = '#B5153C', '#2F9E6C'
ax = AX(212, 1528, 1377, 1805)
ax.axhline(0, color='black', lw=2, ls=(0, (1.2, 1.2)), zorder=4)
ax.plot(le_k1, le1_a, color=RED, lw=2.6, zorder=2)
ax.plot(le_k0, le_shared, color=RED, lw=2.6, zorder=2)
ax.plot(le_k2, le1_b, color=RED, lw=2.6, zorder=2)
ax.plot(le_k1, le2_a, color=GREEN, lw=2.8, zorder=3)
ax.plot(le_k0, le_shared, color=GREEN, lw=2.8, zorder=3)
ax.plot(le_k3, le2_b, color=GREEN, lw=2.8, zorder=3)
ax.set_xlim(0, 2)
ax.set_ylim(-4, .51)
ax.set_xticks([])
ax.set_yticks([-4, -2, 0], ['-4', '-2', '0'])
style(ax)
ax.tick_params(labelsize=51, pad=19)
arrow = dict(arrowstyle='-|>,head_length=1.05,head_width=.32', color='black', lw=1.8, shrinkA=0, shrinkB=0, mutation_scale=30)
ax.annotate('', xy=(.175, -1.56), xytext=(.168, .04), arrowprops=arrow)
ax.annotate('', xy=(.397, -2.37), xytext=(.30, -.24), arrowprops=arrow)
TX = dict(color='#111111', fontsize=55)
ax.text(.109, -2.44, 'LE', **TX)
ax.text(.258, -2.84, '1', color='#111111', fontsize=44)
ax.text(.35, -3.16, 'LE', **TX)
ax.text(.495, -3.59, '2', color='#111111', fontsize=44)
ax.text(1.127, -2.57, 'IC=(0.1,0.1),a=1', **TX)
ax.text(1.127, -3.54, 'c=1,h=-0.53', **TX)
T(65, 1590, 'LEs', fontsize=62, rotation=90, **BI)

ax = AX(215, 1528, 1883, 2309)
ax.set_axisbelow(True)
ax.grid(True, color='#dddddd', lw=1.5)
ax.plot(k_flat, x_flat, color=RED, lw=2.6, zorder=2)
ax.plot(k_flat, y_flat, color=GREEN, lw=2.6, zorder=3)
for sgn in (1, -1):
    ax.plot(k_b1, sgn * np.array(x_b1), color=RED, lw=2.2, zorder=2)
    ax.plot(k_b1, sgn * np.array(y_b1), color=GREEN, lw=2.2, zorder=3)
    ax.fill(blob_k, sgn * np.array(blob_x), color=RED, lw=0, zorder=2)
    ax.fill(blob_k, sgn * np.array(blob_y), color=GREEN, lw=0, zorder=3)
for col, branches, up, dn, z in ((RED, red_branches, red_fork_up, red_fork_dn, 2), (GREEN, green_branches, green_fork_up, green_fork_dn, 3)):
    for br, u, d in zip(branches, up, dn):
        ax.plot(k_b2, br, color=col, lw=2, zorder=z)
        ax.plot(fork_k, br[-1] + u * np.array(fork_w), color=col, lw=1.8, zorder=z)
        ax.plot(fork_k, br[-1] - d * np.array(fork_w), color=col, lw=1.8, zorder=z)
cloud_y = np.linspace(2.24, -2.24, len(cloud_rows))
for ch, col, z in (('r', RED, 2), ('g', GREEN, 3)):
    pk = [cloud_col_k[i] for row in cloud_rows for i, v in enumerate(row) if v == ch]
    py = [cloud_y[j] for j, row in enumerate(cloud_rows) for v in row if v == ch]
    ax.scatter(pk, py, s=20, marker='o', color=col, lw=0, alpha=.92, zorder=z)
ax.set_xlim(0, 2)
ax.set_ylim(-2.25, 2.26)
ax.set_xticks([0, 1, 2], ['0', '1', '2'])
ax.set_yticks([-2, 0, 2], ['-2', '0', '2'])
style(ax)
ax.tick_params(labelsize=51)
ax.tick_params(axis='x', pad=30)
ax.tick_params(axis='y', pad=19)
ax.annotate('', xy=(.383, 1.50), xytext=(.908, .47), arrowprops=arrow)
ax.annotate('', xy=(.338, -1.36), xytext=(.795, -.78), arrowprops=arrow)
T(385, 1973, 'y', fontsize=66, **BI)
T(420, 2011, 'n', fontsize=54, **BI)
T(385, 2211, 'x', fontsize=66, **BI)
T(420, 2255, 'n', fontsize=54, **BI)
T(54, 2119, 'x', fontsize=62, rotation=90, **BI)
T(81, 2077, 'n', fontsize=50, rotation=90, **BI)
T(873, 2465, 'k', fontsize=60, **BI)

# ---------- (d) ----------
PURPLE, ORANGE = '#7B32B4', '#E8701A'
ax = AX(1884, 3237, 1412, 2317)
ax.set_axisbelow(True)
ax.grid(True, color='#dcdcdc', lw=1.5)
for sgn in (1, -1):
    for b in orange_bands:
        ax.fill(sgn * np.array([p[0] for p in b]), sgn * np.array([p[1] for p in b]), color=ORANGE, lw=0, zorder=2)
    ax.scatter(sgn * np.array([p[0] for p in orange_pts]), sgn * np.array([p[1] for p in orange_pts]), s=24, color=ORANGE, lw=0, zorder=4)
    ax.scatter(sgn * np.array([p[0] for p in lens_pts + lobe_pts]), sgn * np.array([p[1] for p in lens_pts + lobe_pts]), s=26, color=PURPLE, lw=0, zorder=3)
    for b in purple_bands:
        ax.fill(sgn * np.array([p[0] for p in b]), sgn * np.array([p[1] for p in b]), color=PURPLE, lw=2, ec=PURPLE, zorder=3)
    ax.scatter(sgn * np.array([p[0] for p in white_pts]), sgn * np.array([p[1] for p in white_pts]), s=24, color='white', lw=0, zorder=4)
ax.scatter(blue_x, blue_y, s=480, marker='o', color='#0B5FA5', lw=0, zorder=5)
ax.scatter(black_x, black_y, s=480, marker='o', color='black', lw=0, zorder=5)
ax.set_xlim(-2.23, 2.23)
ax.set_ylim(-1.33, 1.33)
ax.set_xticks([-2, -1, 0, 1, 2], ['-2', '-1', '0', '1', '2'])
ax.set_yticks([-1, -.5, 0, .5, 1], ['-1', '-0.5', '0', '0.5', '1'])
style(ax)
ax.tick_params(labelsize=55)
for lab in ax.get_xticklabels() + ax.get_yticklabels():
    lab.set_family('Liberation Sans')
ax.tick_params(axis='x', pad=37)
ax.tick_params(axis='y', pad=18)
for xy, xyt in (((-1.99, .18), (-1.71, .71)), ((-.19, 1.09), (-.76, .43)), ((.48, .75), (.12, .43)), ((1.32, .22), (1.26, -.51))):
    ax.annotate('', xy=xy, xytext=xyt, arrowprops=arrow, zorder=6)
TD = dict(color='#111111', fontsize=56, zorder=7)
ax.text(-.40, 1.09, 'k=0.81 P2', **TD)
ax.text(.13, .77, 'k=1.95 CH', **TD)
ax.text(.63, .29, 'k=1.879 HCH', **TD)
ax.text(-2.10, -.02, 'k=1.6 P4', **TD)
ax.text(-1.87, -.92, 'IC=(0.1,0.1),a=1', **TD)
ax.text(-1.87, -1.19, 'c=1,h=-0.53', **TD)
T(1729, 1890, 'y', fontsize=62, rotation=90, **BI)
T(1767, 1852, 'n', fontsize=50, rotation=90, **BI)
T(2513, 2432, 'x', fontsize=66, **BI)
T(2553, 2477, 'n', fontsize=54, **BI)

# ---------- captions ----------
for x, y, s in ((813, 1258, 'a'), (2526, 1258, 'b'), (813, 2594, 'c'), (2526, 2586, 'd')):
    T(x, y, r'($\mathbf{' + s + r'}$)', fontsize=58, color='black')

fig.savefig('out.png', dpi=100)
